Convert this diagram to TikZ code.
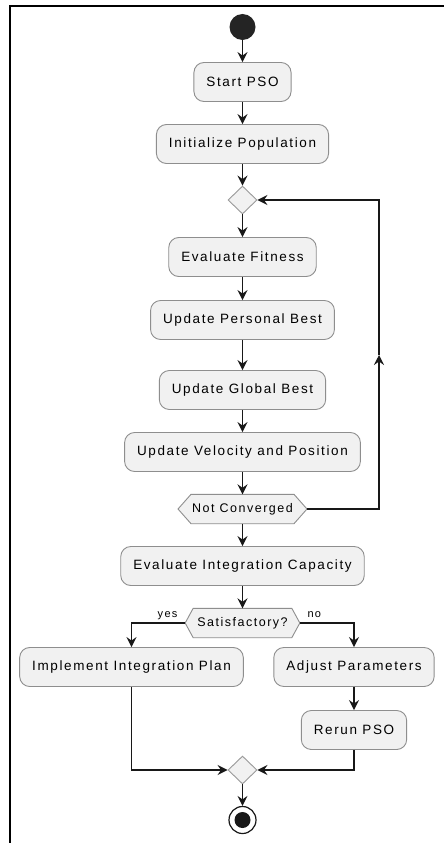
\documentclass[tikz,border=0pt]{standalone}
\usepackage{fontspec}
\setmainfont[LetterSpace=12]{Liberation Sans}
\usetikzlibrary{arrows.meta,backgrounds,calc,shapes.geometric}
\definecolor{boxfill}{HTML}{F1F1F1}
\definecolor{boxborder}{HTML}{8E8E8E}
\definecolor{arrowc}{HTML}{181818}
\begin{document}
\begin{tikzpicture}[x=1pt,y=-1pt,
  act/.style={draw=boxborder, fill=boxfill, rounded corners=10pt, minimum height=39pt,
    inner xsep=12.5pt, font=\fontsize{13.5}{15}\selectfont, text=black, line width=0.9pt},
  hexn/.style={minimum height=29pt, inner ysep=0pt, font=\fontsize{12.5}{14}\selectfont, text=black},
  hexshape/.style={draw=boxborder, fill=boxfill, line width=0.9pt},
  dia/.style={diamond, aspect=1, draw=boxborder!90, fill=boxfill, minimum width=29pt,
    minimum height=28pt, inner sep=0pt, line width=0.9pt},
  startc/.style={circle, fill=arrowc!95, minimum size=26pt, inner sep=0pt},
  endc/.style={circle, draw=arrowc, fill=white, line width=1.2pt, minimum size=27pt, inner sep=0pt,
    path picture={\fill[arrowc] (path picture bounding box.center) circle (8pt);}},
  flow/.style={draw=arrowc, line width=1.3pt, -{Stealth[length=10pt,width=10pt,inset=3.5pt]}},
  lbl/.style={font=\fontsize{11}{12}\selectfont, text=black}
]
\begin{scope}[on background layer]
\fill[white] (0,0) rectangle (444,843);
\end{scope}
\useasboundingbox (0,0) rectangle (444,843);
\draw[line width=2pt, black] (9.5,843) -- (9.5,6) -- (444,6);

\node[startc] (s) at (242.5,27) {};
\node[act] (a1) at (242.5,82) {Start PSO};
\node[act] (a2) at (242.5,144) {Initialize Population};
\node[dia] (d1) at (242.5,200) {};
\node[act] (a3) at (242.5,257) {Evaluate Fitness};
\node[act] (a4) at (242.5,320) {Update Personal Best};
\node[act] (a5) at (242.5,390) {Update Global Best};
\node[act] (a6) at (242.5,452) {Update Velocity and Position};
\node[hexn, inner xsep=1pt] (h1) at (242.5,509) {Not Converged};
\node[act] (a7) at (242.5,566) {Evaluate Integration Capacity};
\node[hexn, inner xsep=4pt] (h2) at (242.5,623) {Satisfactory?};
\node[act] (a8) at (131.5,667) {Implement Integration Plan};
\node[act] (a9) at (354,667) {Adjust Parameters};
\node[act] (a10) at (354,730) {Rerun PSO};
\node[dia] (d2) at (242.5,770) {};
\node[endc] (e) at (242.5,820) {};

\coordinate (h1l) at ($(h1.west)+(-13,0)$);
\coordinate (h1r) at ($(h1.east)+(13,0)$);
\coordinate (h2l) at ($(h2.west)+(-8,0)$);
\coordinate (h2r) at ($(h2.east)+(8,0)$);
\begin{scope}[on background layer]
\draw[hexshape] (h1.north west) -- (h1.north east) -- (h1r) -- (h1.south east) -- (h1.south west) -- (h1l) -- cycle;
\draw[hexshape] (h2.north west) -- (h2.north east) -- (h2r) -- (h2.south east) -- (h2.south west) -- (h2l) -- cycle;
\end{scope}

\coordinate (lm) at (379,355);

\draw[flow] (s) -- (a1);
\draw[flow] (a1) -- (a2);
\draw[flow] (a2) -- (d1);
\draw[flow] (d1) -- (a3);
\draw[flow] (a3) -- (a4);
\draw[flow] (a4) -- (a5);
\draw[flow] (a5) -- (a6);
\draw[flow] (a6) -- (h1);
\draw[flow] (h1r) -| (lm);
\draw[flow] (lm) |- (d1);
\draw[flow] (h1) -- (a7);
\draw[flow] (a7) -- (h2);
\draw[flow] (h2l) -| (a8);
\draw[flow] (h2r) -| (a9);
\draw[flow] (a9) -- (a10);
\draw[flow] (a8) |- (d2);
\draw[flow] (a10) |- (d2);
\draw[flow] (d2) -- (e);

\node[lbl, anchor=base east] (yes) at (181,617) {yes};
\node[lbl, anchor=base west] (no) at (304,617) {no};
\end{tikzpicture}
\end{document}
